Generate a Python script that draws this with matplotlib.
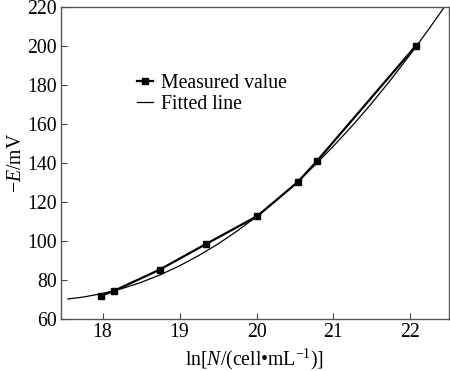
import matplotlib
matplotlib.use('Agg')
from matplotlib import pyplot as plt

plt.rcParams['font.family'] = ['Liberation Serif', 'DejaVu Serif']
plt.rcParams['mathtext.fontset'] = 'custom'
plt.rcParams['mathtext.rm'] = 'Liberation Serif'
plt.rcParams['mathtext.it'] = 'Liberation Serif:italic'

# valores medidos
ln_n = [17.98, 18.15, 18.74, 19.34, 20.01, 20.54, 20.78, 22.07]
pot = [72.0, 74.5, 85.3, 98.4, 112.8, 130.4, 140.8, 200.1]

# curva ajustada
ln_fit = [17.55, 17.75, 18.0, 18.25, 18.5, 18.75, 19.0, 19.25, 19.5, 19.75,
          20.0, 20.25, 20.5, 20.75, 21.0, 21.25, 21.5, 21.75, 22.0, 22.25, 22.44]
pot_fit = [70.3, 71.3, 73.1, 75.6, 78.8, 82.7, 87.3, 92.6, 98.5, 105.2,
           112.5, 120.5, 129.2, 138.6, 148.7, 159.4, 170.8, 183.0, 195.8, 209.3, 220.0]

fs = 14.2

fig = plt.figure(figsize=(4.5, 3.71), dpi=100)
ax = fig.add_axes([0.1356, 0.140, 0.862, 0.841])

ax.plot(ln_n, pot, color='black', lw=1.6, marker='s', ms=5, label='Measured value')
ax.plot(ln_fit, pot_fit, color='black', lw=0.9, label='Fitted line')

ax.set_xlim(17.46, 22.5)
ax.set_ylim(60, 220)
ax.set_xticks([18, 19, 20, 21, 22])
ax.set_yticks(range(60, 221, 20))
ax.tick_params(direction='in', labelsize=fs, length=4, width=0.8, color='#444', pad=3)
for s in ax.spines.values():
    s.set_color('#555')
    s.set_linewidth(1.0)

ax.set_xlabel('ln[$N$/(cell•mL$^{-1}$)]', fontsize=fs, labelpad=3)
ax.set_ylabel('−$E$/mV', fontsize=fs, labelpad=1)

ax.legend(loc='upper left', bbox_to_anchor=(0.16, 0.83), frameon=False,
          fontsize=fs, handlelength=0.8, handletextpad=0.4,
          labelspacing=0.1, borderpad=0.2)

plt.savefig('out.png', dpi=100)
